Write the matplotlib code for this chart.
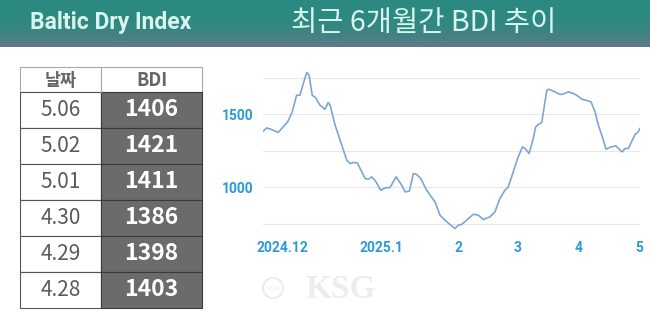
import numpy as np
import matplotlib.pyplot as plt
import matplotlib.colors as mcolors
from matplotlib.patches import Rectangle, Circle

# table on the left: latest readings
dates = ["5.06", "5.02", "5.01", "4.30", "4.29", "4.28"]
bdi_recent = [1406, 1421, 1411, 1386, 1398, 1403]

# six month series (day 0 = 2024-11-06)
days = [0, 1.6, 4.0, 7.2, 8.8, 11.7, 13.9, 16.0, 17.6, 19.2, 20.9, 22.0, 23.5,
        25.2, 27.2, 29.6, 31.2, 32.1, 34.5, 37.7, 40.1, 41.7, 43.2, 45.2, 48.9,
        50.5, 52.1, 54.2, 56.4, 58.5, 60.9, 63.8, 66.5, 68.1, 70.2, 72.1, 73.7,
        75.6, 78.5, 82.5, 84.9, 87.3, 89.7, 92.1, 93.7, 95.3, 97.7, 100.9, 103.3,
        105.7, 108.9, 111.3, 113.7, 116.1, 117.7, 120.1, 122.2, 124.5, 125.8,
        127.7, 129.3, 130.9, 132.1, 133.8, 136.2, 137.3, 139.4, 142.6, 144.2,
        146.6, 149.0, 151.1, 153.0, 155.4, 157.5, 159.4, 161.0, 162.9, 164.7,
        166.6, 169.4, 171.0, 172.5, 173.8, 175.4, 177.3, 178.6, 179.9, 181.0]
bdi = [1384, 1406, 1395, 1375, 1402, 1447, 1516, 1630, 1630, 1710, 1786, 1767,
       1630, 1612, 1562, 1534, 1580, 1562, 1425, 1288, 1185, 1162, 1169, 1166,
       1060, 1055, 1071, 1036, 979, 995, 998, 1071, 1014, 968, 973, 1094, 1087,
       1060, 979, 899, 808, 774, 745, 717, 740, 745, 774, 815, 808, 779, 797,
       831, 923, 979, 1002, 1105, 1197, 1276, 1265, 1231, 1310, 1413, 1429,
       1443, 1664, 1671, 1658, 1635, 1639, 1653, 1642, 1625, 1603, 1594, 1584,
       1516, 1425, 1345, 1260, 1274, 1283, 1260, 1242, 1265, 1265, 1322, 1361,
       1375, 1402]

tick_days = [9.0, 56.6, 93.6, 122.4, 151.7, 180.5]
tick_labels = ["2024.12", "2025.1", "2", "3", "4", "5"]
y_ticks = [750, 1000, 1250, 1500, 1750]
y_labels = ["", "1000", "", "1500", ""]

KR = ["Noto Sans CJK KR", "DejaVu Sans"]

fig = plt.figure(figsize=(6.5, 3.2), dpi=100)

# background layer in pixel coordinates
bg = fig.add_axes([0, 0, 1, 1])
bg.axis("off")

# header band with a soft gradient towards the bottom
top = np.array(mcolors.to_rgb("#2b8a80"))
bot = np.array(mcolors.to_rgb("#62788a"))
t = np.linspace(0, 1, 47) ** 3
grad = top + (bot - top) * t[:, None]
bg.imshow(grad[:, None, :], extent=(0, 650, 47, 0), aspect="auto")
bg.text(30, 22, "Baltic Dry Index", color="#d8f4ef", fontsize=16.5,
        fontweight="bold", family="Roboto", va="center", ha="left")
bg.text(291, 23, "최근 6개월간 BDI 추이", color="#d8f4ef", fontsize=20.5,
        fontweight="medium", family=KR, va="center", ha="left")

# table
x0, xm, x1 = 20, 101, 202
head_top, head_bot, row_h = 67, 92, 36
bg.add_patch(Rectangle((x0, head_top), x1 - x0, head_bot - head_top,
                       facecolor="white", edgecolor="#aaaaaa", lw=0.8))
bg.plot([xm, xm], [head_top, head_bot], color="#aaaaaa", lw=0.8)
bg.text((x0 + xm) / 2, (head_top + head_bot) / 2 + 1, "날짜", color="#666666",
        fontsize=12.5, fontweight="bold", family=KR, ha="center", va="center")
bg.text((xm + x1) / 2, (head_top + head_bot) / 2 + 1, "BDI", color="#666666",
        fontsize=13, fontweight="bold", family=KR, ha="center", va="center")
for i, (d, v) in enumerate(zip(dates, bdi_recent)):
    ry = head_bot + i * row_h
    bg.add_patch(Rectangle((x0, ry), xm - x0, row_h, facecolor="white",
                           edgecolor="#555555", lw=0.8))
    bg.add_patch(Rectangle((xm, ry), x1 - xm, row_h, facecolor="#6b6b6b",
                           edgecolor="#3a3a3a", lw=0.8))
    bg.text((x0 + xm) / 2, ry + row_h / 2, d, color="#5a5a5a", fontsize=15,
            family=KR, ha="center", va="center")
    bg.text((xm + x1) / 2, ry + row_h / 2, f"{v}", color="white", fontsize=16.5,
            fontweight="bold", family=KR, ha="center", va="center")

# faint watermark
bg.add_patch(Circle((273, 288), 10, facecolor="none", edgecolor="#ececec", lw=1.5))
bg.text(273, 288, "KSG", color="#ececec", fontsize=4.5, ha="center", va="center")
bg.text(341, 290, "KSG", color="#ededed", fontsize=24, fontweight="bold",
        family="Liberation Serif", ha="center", va="center")

bg.set_xlim(0, 650)
bg.set_ylim(320, 0)

# line chart
ax = fig.add_axes([263.3 / 650, (320 - 231) / 320, (640 - 263.3) / 650, (231 - 70.4) / 320])
ax.patch.set_alpha(0)
ax.plot(days, bdi, color="#7ba6d8", lw=1.2, zorder=3)
ax.set_xlim(0, 181)
ax.set_ylim(700, 1800)
ax.set_yticks(y_ticks)
ax.set_yticklabels(y_labels)
ax.set_xticks(tick_days)
ax.set_xticklabels(tick_labels)
ax.grid(axis="y", color="#e8e8e8", lw=0.8)
ax.grid(axis="x", visible=False)
for s in ax.spines.values():
    s.set_visible(False)
ax.tick_params(length=0, colors="#2a9bd8", labelsize=10, pad=7)
for lab in ax.get_xticklabels() + ax.get_yticklabels():
    lab.set_fontweight("bold")
    lab.set_family("Roboto")

fig.savefig("out.png", dpi=100)
